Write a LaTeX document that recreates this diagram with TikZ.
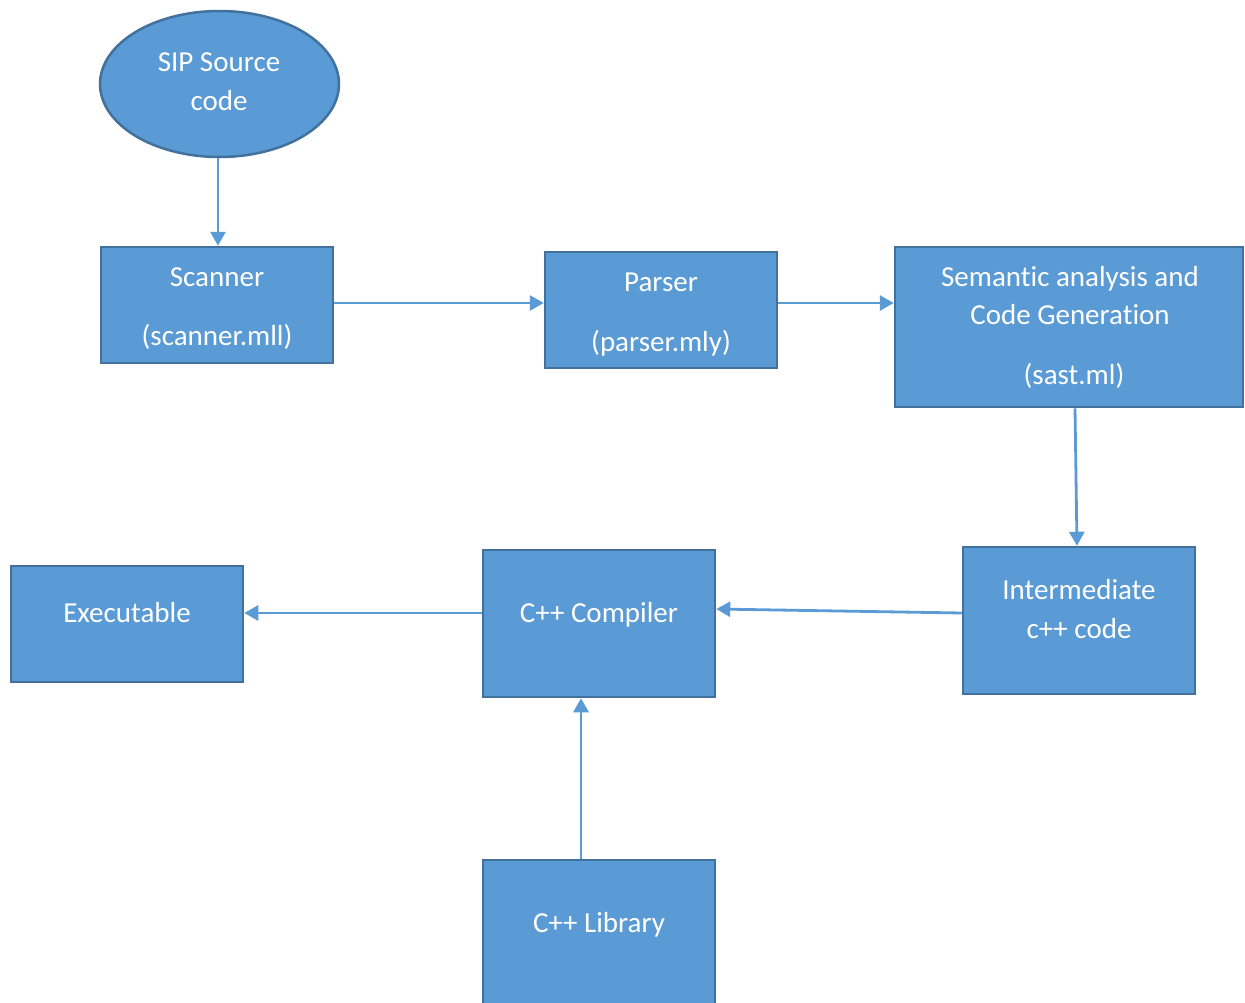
\documentclass[tikz,border=0pt]{standalone}
\usepackage{fontspec}
\setmainfont{Carlito}[RawFeature={-liga;-clig;-dlig;-calt;-hlig}]
\usetikzlibrary{shapes.geometric,arrows.meta}
\definecolor{boxfill}{HTML}{5B9BD5}
\definecolor{boxline}{HTML}{41719C}
\definecolor{arrowc}{HTML}{5B9BD5}
\tikzset{
  box/.style={draw=boxline, fill=boxfill, line width=2.5pt, rectangle, inner sep=0pt},
  oval/.style={draw=boxline, fill=boxfill, line width=2.5pt, ellipse, inner sep=0pt},
  txt/.style={font=\fontsize{29}{35}\selectfont, text=white, anchor=base, inner sep=0pt},
  conn/.style={draw=arrowc, line width=2.8pt, -{Triangle[length=14pt,width=15pt]}}
}
\begin{document}
\begin{tikzpicture}[x=1pt,y=-1pt]
\useasboundingbox (0,0) rectangle (1245,1002);
\clip (0,0) rectangle (1245,1002);
% shapes
\node[oval, minimum width=239pt, minimum height=146pt] (src) at (219.5,84) {};
\node[box, minimum width=232pt, minimum height=116pt] (scan) at (217,305) {};
\node[box, minimum width=232pt, minimum height=116pt] (pars) at (661,310) {};
\node[box, minimum width=348pt, minimum height=160pt] (sem) at (1069,327) {};
\node[box, minimum width=232pt, minimum height=147pt] (inter) at (1079,620.5) {};
\node[box, minimum width=232pt, minimum height=147pt] (comp) at (599,623.5) {};
\node[box, minimum width=232pt, minimum height=116pt] (exe) at (127,624) {};
\node[box, minimum width=232pt, minimum height=160pt] (lib) at (599,940) {};
% texts
\node[txt] (src1) at (219,71) {SIP Source};
\node[txt] (src2) at (219,110) {code};
\node[txt] (scan1) at (217,286) {Scanner};
\node[txt] (scan2) at (217,345) {(scanner.mll)};
\node[txt] (pars1) at (661,291) {Parser};
\node[txt] (pars2) at (661,351) {(parser.mly)};
\node[txt] (sem1) at (1070,286) {Semant\kern0pt ic analysis and};
\node[txt] (sem2) at (1070,324) {Code Generat\kern0pt ion};
\node[txt] (sem3) at (1074,384) {(sast.ml)};
\node[txt] (inter1) at (1079,599) {Intermediate};
\node[txt] (inter2) at (1079,638) {c++ code};
\node[txt] (comp1) at (599,622) {C++ Compiler};
\node[txt] (exe1) at (127,622) {Executable};
\node[txt] (lib1) at (599,932) {C++ Library};
% connectors
\draw[conn] ([xshift=-1.5pt]src.south) -- ([xshift=1pt]scan.north);
\draw[conn] ([yshift=2pt]scan.east) -- ([yshift=7pt]pars.west);
\draw[conn] ([yshift=7pt]pars.east) -- ([yshift=24pt]sem.west);
\draw[conn] ([xshift=6pt]sem.south) -- ([xshift=-2pt]inter.north);
\draw[conn] ([yshift=7.5pt]inter.west) -- ([yshift=14.5pt]comp.east);
\draw[conn] ([yshift=10.5pt]comp.west) -- ([yshift=11pt]exe.east);
\draw[conn] ([xshift=-18pt]lib.north) -- ([xshift=-18pt]comp.south);
\end{tikzpicture}
\end{document}
